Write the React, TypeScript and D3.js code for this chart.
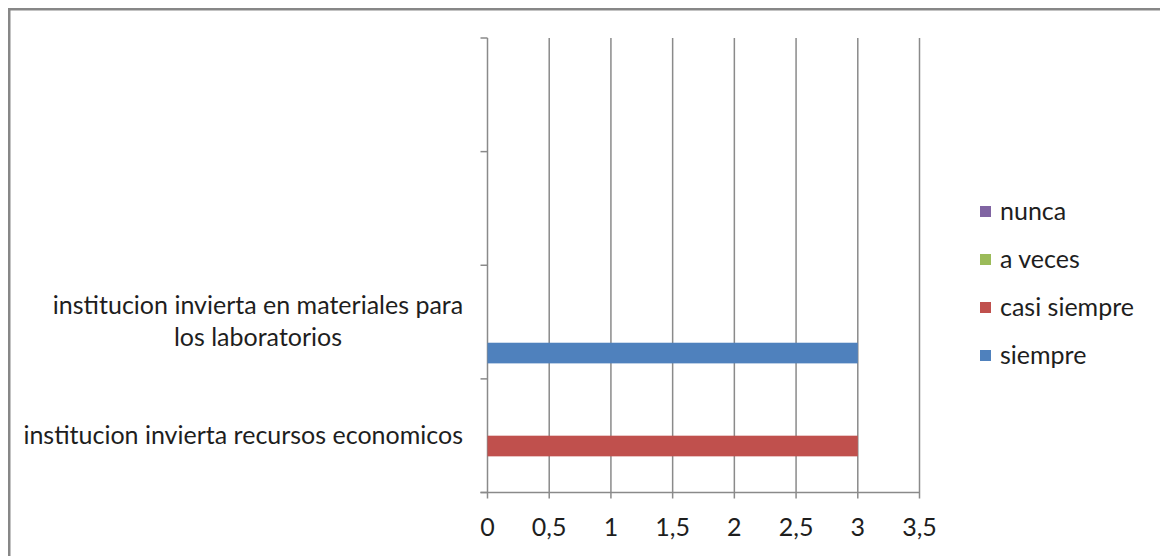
import React from "react";
import * as d3 from "d3";

const categories = [
  "institucion invierta recursos economicos",
  "institucion invierta en materiales para los laboratorios",
  "",
  "",
];
const seriesNames = ["siempre", "casi siempre", "a veces", "nunca"];
const siempre = [0, 3, 0, 0];
const casiSiempre = [3, 0, 0, 0];
const aVeces = [0, 0, 0, 0];
const nunca = [0, 0, 0, 0];
const seriesColors = ["#4F81BD", "#C0504D", "#9BBB59", "#8064A2"];
const xTicks = [0, 0.5, 1, 1.5, 2, 2.5, 3, 3.5];

const W = 1160;
const H = 556;
const plot = { left: 487.5, right: 919.5, top: 38, bottom: 492.5 };
const FONT = "Lato, 'Open Sans', sans-serif";
const GRID = "#8a8a8a";
const TXT = "#1e1e1e";

export default function App() {
  const values = [siempre, casiSiempre, aVeces, nunca];
  const x = d3.scaleLinear().domain([0, 3.5]).range([plot.left, plot.right]);
  const catIdx = categories.map((_, i) => i);
  const y = d3
    .scaleBand<number>()
    .domain(catIdx)
    .range([plot.bottom, plot.top])
    .padding(0);
  const inner = d3
    .scaleBand<number>()
    .domain([3, 2, 1, 0])
    .range([0, y.bandwidth()])
    .paddingInner(0)
    .paddingOuter(0.75);

  const bandEdges = d3.range(categories.length + 1).map((i) =>
    i === categories.length ? plot.top : (y(i) as number) + y.bandwidth()
  );

  const fmt = (v: number) => String(v).replace(".", ",");

  const labelLines: Record<number, string[]> = {
    0: ["institucion invierta recursos economicos"],
    1: ["institucion invierta en materiales para", "los laboratorios"],
  };

  return (
    <svg
      width={W}
      height={H}
      style={{ position: "absolute", left: 0, top: 0, display: "block", background: "#fff" }}
      fontFamily={FONT}
    >
      <rect x={0} y={0} width={W} height={H} fill="#fff" />
      <rect x={9.25} y={9.25} width={W + 20} height={H + 20} fill="none" stroke="#878787" strokeWidth={2.5} />

      {xTicks.map((t) => (
        <line key={"g" + t} x1={x(t)} x2={x(t)} y1={plot.top} y2={plot.bottom + 6} stroke={GRID} strokeWidth={1.5} />
      ))}
      {bandEdges.map((e, i) => (
        <line key={"yt" + i} x1={plot.left - 7} x2={plot.left} y1={e} y2={e} stroke={GRID} strokeWidth={1.5} />
      ))}
      <line x1={plot.left - 7} x2={plot.right} y1={plot.bottom} y2={plot.bottom} stroke={GRID} strokeWidth={1.5} />

      {values.map((vals, s) =>
        vals.map((v, c) =>
          v > 0 ? (
            <rect
              key={`b${s}-${c}`}
              x={x(0)}
              y={(y(c) as number) + (inner(s) as number)}
              width={x(v) - x(0)}
              height={inner.bandwidth()}
              fill={seriesColors[s]}
            />
          ) : null
        )
      )}

      {xTicks.map((t) => (
        <text key={"xl" + t} x={x(t)} y={536} textAnchor="middle" fontSize={25} fill={TXT}>
          {fmt(t)}
        </text>
      ))}

      {catIdx.map((c) => {
        const lines = labelLines[c] || (categories[c] ? [categories[c]] : []);
        if (!lines.length) return null;
        const cy = (y(c) as number) + y.bandwidth() / 2;
        const lh = 32;
        const startY = cy - ((lines.length - 1) * lh) / 2 + 8;
        if (lines.length === 1) {
          return (
            <text key={"cl" + c} x={463} y={startY} textAnchor="end" fontSize={25} fill={TXT}>
              {lines[0]}
            </text>
          );
        }
        return (
          <g key={"cl" + c}>
            {lines.map((ln, k) => (
              <text key={k} x={258} y={startY + k * lh} textAnchor="middle" fontSize={25} fill={TXT}>
                {ln}
              </text>
            ))}
          </g>
        );
      })}

      {seriesNames
        .map((n, i) => ({ n, i }))
        .reverse()
        .map((d, k) => (
          <g key={"lg" + d.n} transform={`translate(980, ${212 + k * 48})`}>
            <rect x={0} y={-6} width={11} height={11} fill={seriesColors[d.i]} />
            <text x={20} y={8} fontSize={25} fill={TXT}>
              {d.n}
            </text>
          </g>
        ))}
    </svg>
  );
}
